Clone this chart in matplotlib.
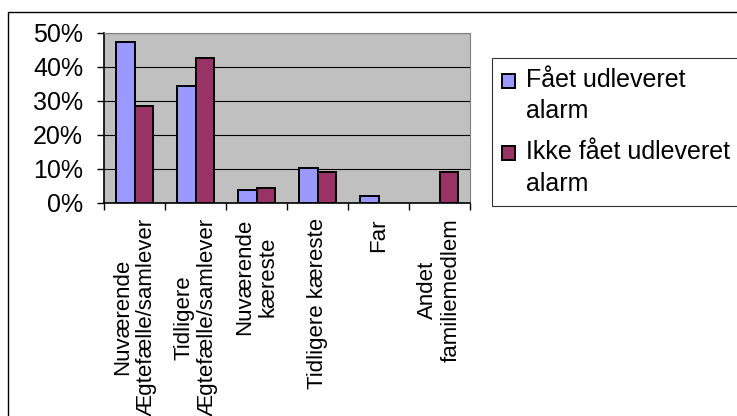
import numpy as np
import matplotlib.pyplot as plt
from matplotlib.patches import Rectangle
from matplotlib.legend_handler import HandlerPatch

plt.rcParams['font.family'] = ['Liberation Sans', 'DejaVu Sans']

categories = ["Nuværende\nÆgtefælle/samlever", "Tidligere\nÆgtefælle/samlever",
              "Nuværende\nkæreste", "Tidligere kæreste", "Far", "Andet\nfamiliemedlem"]
faaet = [0.474, 0.344, 0.038, 0.104, 0.021, 0.0]
ikke_faaet = [0.285, 0.427, 0.045, 0.092, 0.0, 0.092]
series_names = ["Fået udleveret\nalarm", "Ikke fået udleveret\nalarm"]
yticks = [0, 0.1, 0.2, 0.3, 0.4, 0.5]
ytick_labels = ["0%", "10%", "20%", "30%", "40%", "50%"]

fig = plt.figure(figsize=(7.37, 4.16), dpi=100)
fig.patch.set_facecolor("white")

# outer chart border (cut off at right / bottom like the original)
fig.patches.append(Rectangle((8 / 737, -0.05), 1.0, 1 - 12 / 416 + 0.05,
                             transform=fig.transFigure, fill=False,
                             edgecolor="black", linewidth=1.0))

ax = fig.add_axes([104 / 737, 1 - 203 / 416, 366 / 737, 170 / 416])
ax.set_facecolor("#C0C0C0")

x = np.arange(len(categories))
w = 0.3
b1 = ax.bar(x - w / 2, faaet, w, color="#9999FF", edgecolor="black", linewidth=1.4,
            zorder=3)
b2 = ax.bar(x + w / 2, ikke_faaet, w, color="#993366", edgecolor="black", linewidth=1.4,
            zorder=3)
# empty bars show nothing
for bars in (b1, b2):
    for r in bars:
        if r.get_height() == 0:
            r.set_visible(False)

ax.set_xlim(-0.5, len(categories) - 0.5)
ax.set_ylim(0, 0.5)
ax.set_yticks(yticks)
ax.set_yticklabels(ytick_labels, fontsize=18)
ax.yaxis.grid(True, color="black", linewidth=0.8, zorder=1)
ax.set_axisbelow(True)

ax.set_xticks(x)
ax.set_xticklabels(categories, rotation=90, fontsize=16, linespacing=1.15,
                   multialignment="center")
ax.set_xticks(np.arange(len(categories) + 1) - 0.5, minor=True)
ax.tick_params(axis="x", which="major", length=0, pad=11)
ax.tick_params(axis="x", which="minor", length=5, width=1, color="black")
ax.tick_params(axis="y", length=5, width=1, pad=10)

for s in ["top", "right"]:
    ax.spines[s].set_color("#808080")
for s in ["left", "bottom"]:
    ax.spines[s].set_color("black")
    ax.spines[s].set_linewidth(1.2)


def top_square(legend, orig_handle, xdescent, ydescent, width, height, fontsize):
    # put the key square next to the first text line
    return Rectangle((-xdescent, -ydescent + 0.62 * fontsize), width, height)


leg = fig.legend(handles=[b1.patches[0], b2.patches[0]], labels=series_names,
                 loc="upper left", bbox_to_anchor=(492 / 737, 1 - 58 / 416), fontsize=18,
                 frameon=True, fancybox=False, edgecolor="black",
                 handlelength=0.5, handleheight=0.5, handletextpad=0.45,
                 borderpad=0.4, borderaxespad=0, labelspacing=0.67,
                 handler_map={Rectangle: HandlerPatch(patch_func=top_square)})
leg.get_frame().set_linewidth(0.8)
for t in leg.get_texts():
    t.set_linespacing(1.39)

fig.savefig("out.png", dpi=100)
